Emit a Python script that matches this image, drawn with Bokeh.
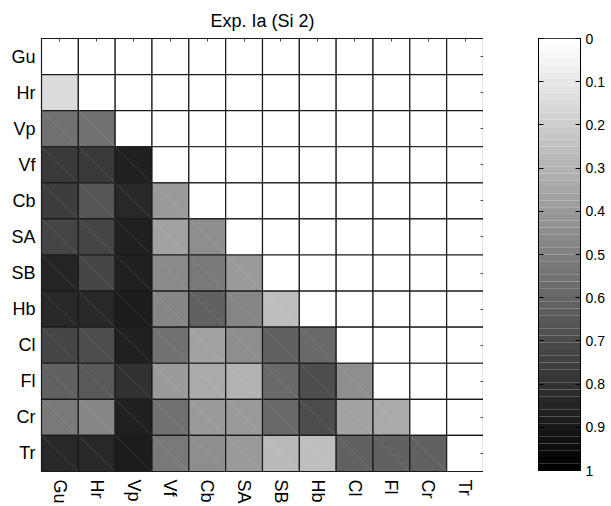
import math
from bokeh.plotting import figure
from bokeh.models import Range1d, FixedTicker, LinearAxis, ColumnDataSource, LinearColorMapper
from bokeh.layouts import row
from bokeh.embed import file_html
from bokeh.resources import INLINE

labels = ["Gu", "Hr", "Vp", "Vf", "Cb", "SA", "SB", "Hb", "Cl", "Fl", "Cr", "Tr"]
lower = [
    [],
    [0.15],
    [0.56, 0.55],
    [0.78, 0.77, 0.87],
    [0.75, 0.67, 0.84, 0.40],
    [0.72, 0.72, 0.87, 0.37, 0.44],
    [0.85, 0.73, 0.87, 0.46, 0.53, 0.40],
    [0.84, 0.84, 0.89, 0.47, 0.62, 0.47, 0.25],
    [0.72, 0.69, 0.87, 0.56, 0.37, 0.44, 0.62, 0.58],
    [0.62, 0.65, 0.81, 0.40, 0.34, 0.31, 0.59, 0.69, 0.44],
    [0.53, 0.47, 0.87, 0.56, 0.40, 0.40, 0.59, 0.69, 0.37, 0.34],
    [0.84, 0.84, 0.89, 0.53, 0.44, 0.40, 0.28, 0.25, 0.62, 0.62, 0.62],
]
cbar_ticks = [0, 0.1, 0.2, 0.3, 0.4, 0.5, 0.6, 0.7, 0.8, 0.9, 1]
cbar_levels = 64

FONT = "Liberation Sans"
n = len(labels)
palette = ["#%02x%02x%02x" % (g, g, g) for g in
           [int(round(255 * (1 - i / (cbar_levels - 1)))) for i in range(cbar_levels)]]
mapper = LinearColorMapper(palette=palette, low=0, high=1)

xs, ys, vs = [], [], []
for i in range(n):
    for j in range(n):
        v = lower[i][j] if j < i else 0.0
        xs.append(j + 0.5)
        ys.append(i + 0.5)
        vs.append(v)
src = ColumnDataSource(dict(x=xs, y=ys, v=vs))

dx0, dy0, dx1, dy1 = [], [], [], []
for i in range(n):
    for j in range(i):
        dx0.append(j); dy0.append(i); dx1.append(j + 1); dy1.append(i + 1)

p = figure(frame_width=442, frame_height=433,
           x_range=Range1d(0, n), y_range=Range1d(n, 0),
           output_backend="svg", toolbar_location=None,
           min_border_left=41, min_border_right=0, min_border_top=36, min_border_bottom=36)
p.title.text = "Exp. Ia (Si 2)"
p.title.align = "center"
p.title.text_font = FONT
p.title.text_font_size = "18px"
p.title.text_font_style = "normal"
p.title.text_color = "black"
p.title.standoff = 16

p.rect(x="x", y="y", width=1, height=1, source=src,
       fill_color={"field": "v", "transform": mapper},
       line_color="#1a1a1a", line_width=1.2)
p.segment(x0=dx0, y0=dy0, x1=dx1, y1=dy1, line_color="white", line_alpha=0.15, line_width=0.8)

centers = [k + 0.5 for k in range(n)]
overrides = {c: lab for c, lab in zip(centers, labels)}
blank = {c: "" for c in centers}
for ax in (p.xaxis[0], p.yaxis[0]):
    ax.ticker = FixedTicker(ticks=centers)
    ax.major_label_overrides = overrides
    ax.major_tick_in = 0
    ax.major_tick_out = 0
    ax.minor_tick_line_color = None
    ax.axis_line_color = "#1a1a1a"
    ax.major_label_text_font = FONT
    ax.major_label_text_font_size = "18px"
    ax.major_label_text_color = "black"
p.xaxis.major_label_orientation = -math.pi / 2
p.xaxis.major_label_standoff = 8
p.yaxis.major_label_standoff = 6
p.grid.visible = False
p.outline_line_color = "#1a1a1a"
p.outline_line_width = 1.2

for loc in ("above", "right"):
    ax = LinearAxis(ticker=FixedTicker(ticks=centers), major_label_overrides=blank,
                    major_label_standoff=0,
                    major_tick_in=3, major_tick_out=0, minor_tick_line_color=None,
                    major_tick_line_color="#444444", axis_line_color="#1a1a1a")
    p.add_layout(ax, loc)

# colorbar figure
c = figure(frame_width=42, frame_height=432,
           x_range=Range1d(0, 1), y_range=Range1d(1, 0),
           output_backend="svg", toolbar_location=None,
           min_border_left=55, min_border_right=10, min_border_top=37, min_border_bottom=36,
           y_axis_location="right")
edges = [k / cbar_levels for k in range(cbar_levels + 1)]
c.quad(left=0, right=1, bottom=edges[1:], top=edges[:-1], fill_color=palette, line_color=None)
c.xaxis.visible = False
c.grid.visible = False
c.outline_line_color = "black"
ra = c.yaxis[0]
ra.ticker = FixedTicker(ticks=cbar_ticks)
ra.major_label_overrides = {t: ("%g" % t) for t in cbar_ticks}
ra.major_tick_in = 5
ra.major_tick_out = 0
ra.minor_tick_line_color = None
ra.major_label_standoff = 5
ra.major_label_text_font = FONT
ra.major_label_text_font_size = "14px"
ra.major_label_text_color = "black"
ra.major_label_text_align = "left"
la = LinearAxis(ticker=FixedTicker(ticks=cbar_ticks), major_label_overrides={t: "" for t in cbar_ticks},
                major_label_standoff=0,
                major_tick_in=5, major_tick_out=0, minor_tick_line_color=None,
                axis_line_color="black")
c.add_layout(la, "left")

layout = row(p, c)
open("out.html", "w").write(file_html(layout, INLINE))
